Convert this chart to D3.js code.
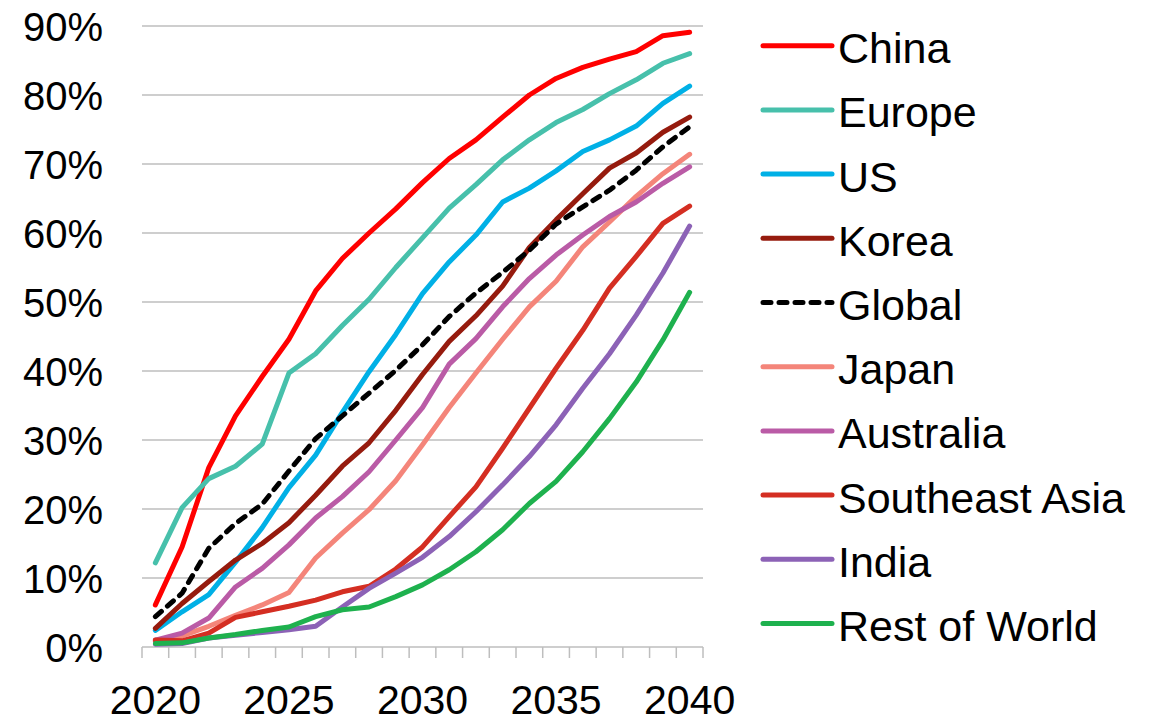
<!DOCTYPE html>
<html>
<head>
<meta charset="utf-8">
<script src="https://cdn.jsdelivr.net/npm/d3@7"></script>
<style>
  html, body { margin: 0; padding: 0; background: #fff; }
  svg { display: block; font-family: "Liberation Sans", Arial, sans-serif; }
</style>
</head>
<body>
<svg id="chart" width="1152" height="718"></svg>
<script>
// Share of new sales by region, 2020-2040 (percent)
const years = d3.range(2020, 2041);
const yTicks = [0, 10, 20, 30, 40, 50, 60, 70, 80, 90];
const xLabelYears = [2020, 2025, 2030, 2035, 2040];

const seriesNames = ["China", "Europe", "US", "Korea", "Global", "Japan", "Australia", "Southeast Asia", "India", "Rest of World"];
const seriesColors = ["#FF0000", "#47C0AB", "#00B0E6", "#961B0E", "#000000", "#F4857A", "#BA5BA6", "#D42E22", "#8C62B6", "#1EB14E"];

const china     = [6.1, 14.5, 26.0, 33.5, 39.2, 44.6, 51.6, 56.3, 60.0, 63.5, 67.3, 70.8, 73.5, 76.8, 80.0, 82.4, 84.0, 85.2, 86.3, 88.6, 89.1];
const europe    = [12.2, 20.2, 24.4, 26.2, 29.4, 39.7, 42.5, 46.6, 50.4, 55.0, 59.3, 63.6, 67.0, 70.6, 73.5, 76.0, 77.9, 80.2, 82.2, 84.6, 86.0];
const us        = [2.4, 5.1, 7.6, 12.3, 17.3, 23.1, 27.8, 34.0, 39.9, 45.3, 51.2, 55.8, 59.7, 64.5, 66.5, 69.0, 71.8, 73.5, 75.5, 78.8, 81.3];
const korea     = [2.7, 6.3, 9.5, 12.6, 15.0, 18.0, 22.0, 26.2, 29.6, 34.3, 39.5, 44.3, 48.0, 52.3, 57.9, 61.9, 65.7, 69.4, 71.6, 74.6, 76.8];
const global    = [4.4, 7.8, 14.3, 17.9, 20.7, 25.5, 30.2, 33.5, 36.8, 40.1, 43.8, 47.9, 51.3, 54.3, 57.5, 61.3, 63.8, 66.2, 69.1, 72.5, 75.4];
const japan     = [0.8, 1.6, 3.0, 4.6, 6.1, 7.9, 12.9, 16.5, 19.9, 24.1, 29.3, 34.7, 39.7, 44.6, 49.3, 53.0, 58.0, 61.6, 65.3, 68.6, 71.4];
const australia = [1.0, 2.0, 4.2, 8.7, 11.4, 14.8, 18.7, 21.8, 25.4, 30.0, 34.7, 41.0, 44.7, 49.3, 53.4, 56.8, 59.7, 62.4, 64.5, 67.2, 69.6];
const seAsia    = [1.0, 0.9, 2.0, 4.3, 5.1, 5.9, 6.8, 8.0, 8.8, 11.3, 14.5, 18.9, 23.2, 28.8, 34.6, 40.4, 45.9, 52.0, 56.6, 61.4, 63.9];
const india     = [0.4, 0.5, 1.3, 1.7, 2.1, 2.5, 3.0, 5.8, 8.5, 10.7, 13.0, 16.0, 19.6, 23.5, 27.6, 32.2, 37.5, 42.5, 48.1, 54.2, 61.0];
const restWorld = [0.5, 0.6, 1.3, 1.8, 2.4, 2.9, 4.4, 5.4, 5.8, 7.3, 9.0, 11.2, 13.8, 17.0, 20.8, 24.0, 28.3, 33.1, 38.4, 44.5, 51.4];

const seriesValues = [china, europe, us, korea, global, japan, australia, seAsia, india, restWorld];
const series = seriesNames.map((name, i) => ({
  name, color: seriesColors[i], dashed: name === "Global", values: seriesValues[i]
}));

const svg = d3.select("#chart");
const plot = { left: 142, right: 703, top: 26, bottom: 647 };

const x = d3.scaleBand().domain(years).range([plot.left, plot.right]).paddingInner(0).paddingOuter(0);
const y = d3.scaleLinear().domain([0, 90]).range([plot.bottom, plot.top]);
const xc = yr => x(yr) + x.bandwidth() / 2;

// horizontal gridlines
svg.append("g")
  .selectAll("line")
  .data(yTicks.filter(d => d > 0))
  .join("line")
  .attr("x1", plot.left).attr("x2", plot.right)
  .attr("y1", d => y(d)).attr("y2", d => y(d))
  .attr("stroke", "#BEBEBE").attr("stroke-width", 1.5);

// y-axis labels
svg.append("g")
  .selectAll("text")
  .data(yTicks)
  .join("text")
  .attr("x", 103)
  .attr("y", d => y(d) + 15)
  .attr("text-anchor", "end")
  .attr("font-size", 40)
  .attr("fill", "#000")
  .text(d => d + "%");

// category axis with tick marks between years
const xAxis = svg.append("g");
xAxis.append("line")
  .attr("x1", plot.left).attr("x2", plot.right)
  .attr("y1", plot.bottom).attr("y2", plot.bottom)
  .attr("stroke", "#BEBEBE").attr("stroke-width", 1.5);
const tickPos = years.map(d => x(d)).concat([plot.right]);
xAxis.selectAll("line.tick")
  .data(tickPos)
  .join("line")
  .attr("class", "tick")
  .attr("x1", d => d).attr("x2", d => d)
  .attr("y1", plot.bottom).attr("y2", plot.bottom + 11)
  .attr("stroke", "#BEBEBE").attr("stroke-width", 1.5);
xAxis.selectAll("text")
  .data(xLabelYears)
  .join("text")
  .attr("x", d => xc(d))
  .attr("y", 714)
  .attr("text-anchor", "middle")
  .attr("font-size", 41)
  .attr("fill", "#000")
  .text(d => d);

// series lines
const line = d3.line()
  .x((d, i) => xc(years[i]))
  .y(d => y(d));

svg.append("g")
  .selectAll("path")
  .data(series)
  .join("path")
  .attr("d", d => line(d.values))
  .attr("fill", "none")
  .attr("stroke", d => d.color)
  .attr("stroke-width", 5)
  .attr("stroke-linejoin", "round")
  .attr("stroke-linecap", "round")
  .attr("stroke-dasharray", d => d.dashed ? "8,8" : null);

// legend
const legend = svg.append("g");
const legendY = i => 45.7 + i * 64.2;
const items = legend.selectAll("g")
  .data(series)
  .join("g")
  .attr("transform", (d, i) => `translate(0,${legendY(i)})`);
items.append("line")
  .attr("x1", 763).attr("x2", 832)
  .attr("y1", 0).attr("y2", 0)
  .attr("stroke", d => d.color)
  .attr("stroke-width", 5)
  .attr("stroke-linecap", "round")
  .attr("stroke-dasharray", d => d.dashed ? "8,8" : null);
items.append("text")
  .attr("x", 838)
  .attr("y", 17.5)
  .attr("font-size", 43)
  .attr("fill", "#000")
  .text(d => d.name);
</script>
</body>
</html>
